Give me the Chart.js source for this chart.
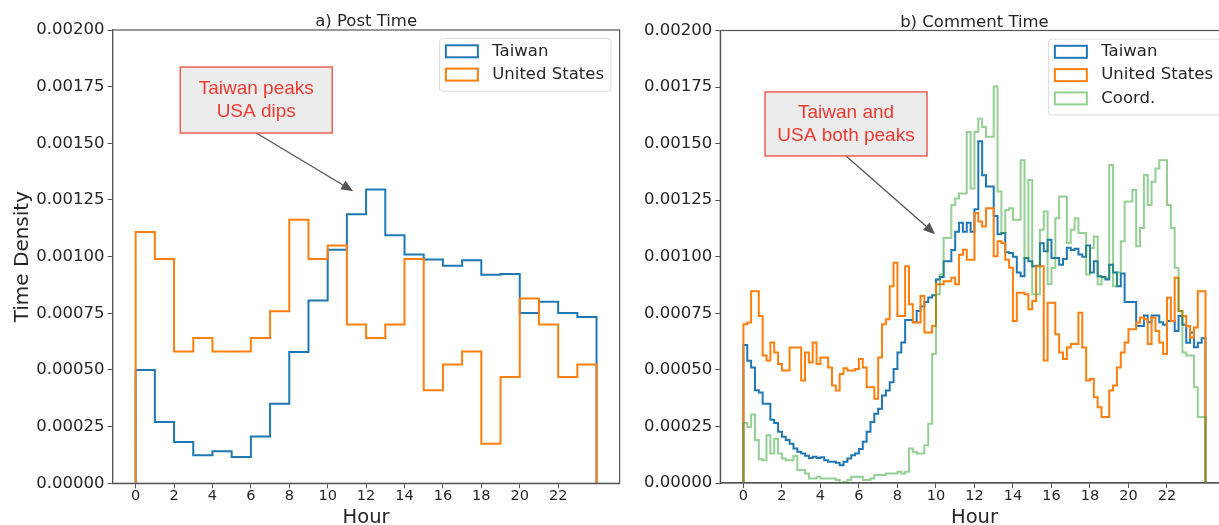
<!DOCTYPE html>
<html>
<head>
<meta charset="utf-8">
<script src="https://cdn.jsdelivr.net/npm/chart.js@4.4.1/dist/chart.umd.min.js"></script>
<style>
html, body { margin:0; padding:0; background:#fff; overflow:hidden; width:1219px; height:525px; }
#wrapA { position:absolute; left:0; top:0; width:625px; height:525px; }
#wrapB { position:absolute; left:625px; top:0; width:615px; height:525px; }
canvas { display:block; }
</style>
</head>
<body>
<div id="wrapA"><canvas id="cA" width="625" height="525"></canvas></div>
<div id="wrapB"><canvas id="cB" width="615" height="525"></canvas></div>
<script>
// ---------------- data ----------------
const seriesNames = ['Taiwan', 'United States', 'Coord.'];
const panelTitles = ['a) Post Time', 'b) Comment Time'];
const hourTicks = [0, 2, 4, 6, 8, 10, 12, 14, 16, 18, 20, 22];
const densityTicks = [0, 0.00025, 0.0005, 0.00075, 0.001, 0.00125, 0.0015, 0.00175, 0.002];

const postBinWidth = 1;      // hours per bin (24 bins)
const commentBinWidth = 0.2; // hours per bin (120 bins)

const postTaiwan = [0.000500, 0.000270, 0.000182, 0.000124, 0.000141, 0.000116, 0.000206, 0.000351,
  0.000579, 0.000807, 0.001030, 0.001187, 0.001296, 0.001094, 0.001009, 0.000987,
  0.000960, 0.000984, 0.000920, 0.000924, 0.000751, 0.000801, 0.000751, 0.000734];

const postUS = [0.001109, 0.000990, 0.000582, 0.000641, 0.000582, 0.000582, 0.000641, 0.000759,
  0.001163, 0.000990, 0.001049, 0.000701, 0.000641, 0.000701, 0.000990, 0.000410,
  0.000524, 0.000582, 0.000175, 0.000469, 0.000815, 0.000701, 0.000469, 0.000524];

const commentTaiwan = [
  61e-5, 54e-5, 51e-5, 41e-5, 40e-5, 35e-5, 35e-5, 28e-5, 26.5e-5, 22.6e-5,
  20.4e-5, 19e-5, 17.4e-5, 15.2e-5, 13.8e-5, 13e-5, 12e-5, 11e-5, 11.6e-5, 11e-5,
  11.4e-5, 10.1e-5, 9.4e-5, 9.4e-5, 8.9e-5, 7.8e-5, 9.4e-5, 10.8e-5, 12.3e-5, 13e-5,
  15e-5, 18.2e-5, 22.6e-5, 27e-5, 30.6e-5, 32.8e-5, 38.7e-5, 40.9e-5, 44.5e-5, 50.4e-5,
  57.7e-5, 62.1e-5, 72e-5, 72e-5, 71e-5, 76e-5, 78e-5, 80e-5, 82e-5, 83e-5,
  90e-5, 91e-5, 98e-5, 98e-5, 103e-5, 111e-5, 115e-5, 111e-5, 115e-5, 111e-5,
  121e-5, 151e-5, 136e-5, 131e-5, 131e-5, 118e-5, 110e-5, 110.5e-5, 102e-5, 101.7e-5,
  100e-5, 93e-5, 91.4e-5, 99.5e-5, 98e-5, 95.8e-5, 96e-5, 106e-5, 102.4e-5, 107.5e-5,
  99.5e-5, 99.5e-5, 96.5e-5, 99e-5, 104e-5, 103e-5, 103.5e-5, 101e-5, 100e-5, 105e-5,
  93e-5, 98e-5, 91.4e-5, 91e-5, 90e-5, 96.5e-5, 93e-5, 87e-5, 92.6e-5, 80e-5,
  80e-5, 80e-5, 69.4e-5, 69.4e-5, 74e-5, 71e-5, 74e-5, 74e-5, 71e-5, 70e-5,
  71.6e-5, 71.6e-5, 67.2e-5, 73.8e-5, 70e-5, 62e-5, 66.5e-5, 60e-5, 62e-5, 64e-5];

const commentUS = [
  70.2e-5, 70.9e-5, 84.8e-5, 84.8e-5, 73.8e-5, 56.3e-5, 54.1e-5, 62.1e-5, 57.7e-5, 52.6e-5,
  49.7e-5, 49.7e-5, 59.9e-5, 59.9e-5, 59.9e-5, 45.3e-5, 57.7e-5, 53.3e-5, 62.1e-5, 52.6e-5,
  55.5e-5, 55.5e-5, 51.1e-5, 43.1e-5, 40.9e-5, 48.2e-5, 50.7e-5, 49.7e-5, 49.7e-5, 50.4e-5,
  54.8e-5, 51.1e-5, 42.3e-5, 42.3e-5, 37.2e-5, 55.5e-5, 70.2e-5, 72.4e-5, 87e-5, 97.3e-5,
  73.8e-5, 73.8e-5, 95.8e-5, 79e-5, 70.9e-5, 70.9e-5, 82.6e-5, 66.5e-5, 66.5e-5, 69.4e-5,
  87.8e-5, 87.8e-5, 89.2e-5, 89.2e-5, 90.7e-5, 87.8e-5, 100.9e-5, 103.1e-5, 98.7e-5, 98.7e-5,
  119.3e-5, 115.6e-5, 113.4e-5, 121.4e-5, 121.4e-5, 100.2e-5, 106.8e-5, 106.1e-5, 98.7e-5, 95.1e-5,
  71.6e-5, 84.1e-5, 84.1e-5, 83.4e-5, 76.8e-5, 80.4e-5, 95.8e-5, 95.8e-5, 54.1e-5, 79.7e-5,
  79.7e-5, 65.8e-5, 57.7e-5, 54.8e-5, 59.9e-5, 61.4e-5, 61.4e-5, 75.3e-5, 59.9e-5, 45.3e-5,
  46e-5, 37.9e-5, 33.5e-5, 29.2e-5, 29.2e-5, 40.9e-5, 43.1e-5, 51.1e-5, 57.7e-5, 62.1e-5,
  68e-5, 68e-5, 70.9e-5, 73.1e-5, 72.4e-5, 61.4e-5, 73.1e-5, 67.2e-5, 62.1e-5, 57e-5,
  81.9e-5, 71.6e-5, 90.7e-5, 76e-5, 73.8e-5, 69.4e-5, 64.3e-5, 68.7e-5, 84.8e-5, 84.8e-5];

const commentCoord = [
  26.5e-5, 24.8e-5, 30.3e-5, 19e-5, 10.5e-5, 10.1e-5, 21.1e-5, 13e-5, 19.6e-5, 13e-5,
  10.8e-5, 10.1e-5, 10.1e-5, 11.9e-5, 5.7e-5, 5.7e-5, 4.2e-5, 2.0e-5, 2.0e-5, 2.8e-5,
  2.0e-5, 2.0e-5, 2.0e-5, 2.0e-5, 1.3e-5, 0.1e-5, 0.4e-5, 1.3e-5, 2.8e-5, 2.8e-5,
  2.8e-5, 1.3e-5, 1.3e-5, 2.0e-5, 3.5e-5, 3.5e-5, 3.5e-5, 4.2e-5, 4.2e-5, 4.2e-5,
  5.0e-5, 4.2e-5, 5.0e-5, 15.2e-5, 13.8e-5, 13e-5, 13e-5, 16.7e-5, 26.2e-5, 57e-5,
  83.4e-5, 92.1e-5, 108.3e-5, 108.3e-5, 122.9e-5, 125.8e-5, 128e-5, 128e-5, 155.1e-5, 130.2e-5,
  155.1e-5, 161e-5, 157.3e-5, 153e-5, 153e-5, 175.2e-5, 128.8e-5, 110.5e-5, 120.7e-5, 121.4e-5,
  116.3e-5, 116.3e-5, 142.7e-5, 99.5e-5, 133.9e-5, 83.4e-5, 83.4e-5, 111.9e-5, 120e-5, 87.8e-5,
  95e-5, 117e-5, 126.6e-5, 126.6e-5, 106.1e-5, 111.9e-5, 117e-5, 110.5e-5, 110.5e-5, 92.1e-5,
  103.9e-5, 109e-5, 87.8e-5, 90.7e-5, 90.7e-5, 140.5e-5, 87e-5, 93e-5, 106.8e-5, 124.4e-5,
  124.4e-5, 129.5e-5, 104.6e-5, 112.7e-5, 136.1e-5, 122.9e-5, 133.2e-5, 139e-5, 142.7e-5, 142.7e-5,
  122.9e-5, 112.7e-5, 95.1e-5, 76e-5, 57.7e-5, 56.3e-5, 56.3e-5, 42.3e-5, 29.2e-5, 29.2e-5];

// annotation notes (text, box centre and arrow target in data coordinates)
const postNote = { lines: ['Taiwan peaks', 'USA dips'], at: [6.28, 0.001691], arrowTo: [11.33, 0.001289] };
const commentNote = { lines: ['Taiwan and', 'USA both peaks'], at: [5.33, 0.001587], arrowTo: [9.96, 0.00110] };

// ---------------- helpers ----------------
function stepSeries(values, binWidth) {
  const pts = [{ x: 0, y: 0 }];
  values.forEach((v, i) => pts.push({ x: i * binWidth, y: v }));
  const end = values.length * binWidth;
  pts.push({ x: end, y: values[values.length - 1] });
  pts.push({ x: end, y: 0 });
  return pts;
}

const COLORS = ['#1f77b4', '#ff7f0e', 'rgba(44,160,44,0.5)'];
const AXIS = '#555555';
const TEXT = '#262626';
const FONT = "'DejaVu Sans', sans-serif";

function dataset(idx, values, binWidth) {
  return {
    label: seriesNames[idx],
    data: stepSeries(values, binWidth),
    borderColor: COLORS[idx],
    backgroundColor: 'transparent',
    borderWidth: 2,
    pointRadius: 0,
    pointHoverRadius: 0,
    fill: false,
    stepped: true,
    tension: 0,
    order: 3 - idx
  };
}

const panelPlugin = {
  id: 'panel',
  afterDatasetsDraw(chart, args, opts) {
    const { ctx, chartArea: a } = chart;
    const xs = chart.scales.x, ys = chart.scales.y;
    ctx.save();
    // frame
    ctx.strokeStyle = AXIS; ctx.lineWidth = 1.2;
    ctx.strokeRect(a.left, a.top, a.right - a.left, a.bottom - a.top);
    // title
    ctx.fillStyle = TEXT; ctx.font = '16.5px ' + FONT;
    ctx.textAlign = 'center'; ctx.textBaseline = 'alphabetic';
    ctx.fillText(opts.title, (a.left + a.right) / 2, a.top - 4);

    // annotation
    const n = opts.note;
    const cx = xs.getPixelForValue(n.at[0]), cy = ys.getPixelForValue(n.at[1]);
    const tx = xs.getPixelForValue(n.arrowTo[0]), ty = ys.getPixelForValue(n.arrowTo[1]);
    const bw = opts.boxW, bh = opts.boxH;
    const sx = cx, sy = cy + bh / 2;
    const ang = Math.atan2(ty - sy, tx - sx);
    const hl = 12, hw = 5;
    const c = Math.cos(ang), s = Math.sin(ang);
    ctx.strokeStyle = '#555'; ctx.fillStyle = '#555'; ctx.lineWidth = 1.3;
    ctx.beginPath(); ctx.moveTo(sx, sy); ctx.lineTo(tx - hl * c, ty - hl * s); ctx.stroke();
    ctx.beginPath();
    ctx.moveTo(tx, ty);
    ctx.lineTo(tx - hl * c + hw * s, ty - hl * s - hw * c);
    ctx.lineTo(tx - hl * c - hw * s, ty - hl * s + hw * c);
    ctx.closePath(); ctx.fill();
    ctx.fillStyle = '#ececec';
    ctx.fillRect(cx - bw / 2, cy - bh / 2, bw, bh);
    ctx.strokeStyle = 'rgba(236,70,60,0.85)'; ctx.lineWidth = 1.5;
    ctx.strokeRect(cx - bw / 2, cy - bh / 2, bw, bh);
    ctx.fillStyle = '#ee3b33';
    ctx.font = "19px 'Liberation Sans', Arial, sans-serif";
    ctx.textAlign = 'center'; ctx.textBaseline = 'middle';
    const lh = 23.3;
    n.lines.forEach((t, k) => {
      ctx.fillText(t, cx, cy + (k - (n.lines.length - 1) / 2) * lh);
    });

    // legend
    ctx.font = '16.5px ' + FONT;
    const items = chart.data.datasets.map(d => ({ label: d.label, color: d.borderColor }));
    const maxW = Math.max(...items.map(i => ctx.measureText(i.label).width));
    const lw = 5.3 + 34 + 13.4 + maxW + 7;
    const lhgt = items.length * 23.3 + 6;
    const right = a.right - 8.6, top = a.top + 8.6, left = right - lw;
    ctx.fillStyle = 'rgba(255,255,255,0.85)';
    ctx.strokeStyle = '#dcdcdc'; ctx.lineWidth = 1;
    ctx.beginPath();
    if (ctx.roundRect) ctx.roundRect(left, top, lw, lhgt, 3); else ctx.rect(left, top, lw, lhgt);
    ctx.fill(); ctx.stroke();
    ctx.textAlign = 'left'; ctx.textBaseline = 'middle';
    items.forEach((it, k) => {
      const yc = top + 12.7 + k * 23.3;
      ctx.strokeStyle = it.color; ctx.lineWidth = 2;
      ctx.strokeRect(left + 6.3, yc - 6, 32, 12);
      ctx.fillStyle = TEXT;
      ctx.fillText(it.label, left + 5.3 + 34 + 13.4, yc);
    });
    ctx.restore();
  }
};

function makeOptions(cfg) {
  return {
    responsive: false,
    animation: false,
    events: [],
    layout: { padding: { left: 0, top: cfg.top, right: cfg.padRight, bottom: 0 } },
    plugins: {
      legend: { display: false },
      title: { display: false },
      tooltip: { enabled: false },
      panel: { title: cfg.title, note: cfg.note, boxW: cfg.boxW, boxH: cfg.boxH }
    },
    scales: {
      x: {
        type: 'linear', min: -1.2, max: 25.2,
        afterBuildTicks: s => { s.ticks = hourTicks.map(v => ({ value: v })); },
        afterFit: s => { s.height = cfg.xHeight; },
        ticks: { font: { family: FONT, size: 14.5 }, color: TEXT, padding: -0.5, maxRotation: 0, autoSkip: false,
                 callback: v => String(v) },
        grid: { display: true, drawOnChartArea: false, drawTicks: true, tickLength: 5, color: AXIS, lineWidth: 1 },
        border: { display: true, color: AXIS, width: 1.2 },
        title: { display: true, text: 'Hour', font: { family: FONT, size: 19.5, lineHeight: 1 }, color: TEXT,
                 padding: { top: 0, bottom: -3 } }
      },
      y: {
        type: 'linear', min: 0, max: 0.002,
        afterBuildTicks: s => { s.ticks = densityTicks.map(v => ({ value: v })); },
        afterFit: s => { s.width = cfg.yWidth; },
        ticks: { font: { family: FONT, size: 16.5 }, color: TEXT, padding: 3, autoSkip: false,
                 callback: v => Number(v).toFixed(5) },
        grid: { display: true, drawOnChartArea: false, drawTicks: true, tickLength: 5, color: AXIS, lineWidth: 1 },
        border: { display: true, color: AXIS, width: 1.2 },
        title: { display: cfg.yTitle, text: 'Time Density', font: { family: FONT, size: 20, lineHeight: 1 }, color: TEXT,
                 padding: { top: 12.5, bottom: 0 } }
      }
    }
  };
}

new Chart(document.getElementById('cA'), {
  type: 'line',
  data: { datasets: [dataset(0, postTaiwan, postBinWidth), dataset(1, postUS, postBinWidth)] },
  options: makeOptions({ title: panelTitles[0], note: postNote, boxW: 152, boxH: 66,
    top: 30, padRight: 5.4, xHeight: 41.7, yWidth: 112.6, yTitle: true }),
  plugins: [panelPlugin]
});

new Chart(document.getElementById('cB'), {
  type: 'line',
  data: { datasets: [dataset(0, commentTaiwan, commentBinWidth), dataset(1, commentUS, commentBinWidth),
                     dataset(2, commentCoord, commentBinWidth)] },
  options: makeOptions({ title: panelTitles[1], note: commentNote, boxW: 162, boxH: 64,
    top: 30.5, padRight: 11.4, xHeight: 42, yWidth: 95.3, yTitle: false }),
  plugins: [panelPlugin]
});
</script>
</body>
</html>
